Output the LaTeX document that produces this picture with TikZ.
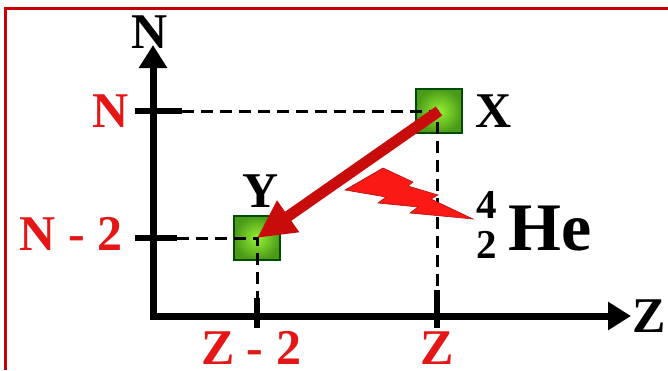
\documentclass[tikz,border=0pt]{standalone}
\usepackage{fontspec}
\setmainfont{Liberation Serif}
\usepackage{xcolor}
\usetikzlibrary{arrows.meta,positioning,shadings}
\definecolor{framered}{RGB}{200,0,0}
\definecolor{labelred}{RGB}{228,22,22}
\definecolor{arrowred}{RGB}{200,12,12}
\definecolor{boltred}{RGB}{250,25,20}
\definecolor{boxlight}{RGB}{150,240,50}
\definecolor{boxdark}{RGB}{75,155,25}

\begin{document}
\begin{tikzpicture}[
  x=1pt, y=-1pt,
  lbl/.style={inner sep=0pt,anchor=base,font=\bfseries\fontsize{50}{50}\selectfont},
  redlbl/.style={lbl,text=labelred},
  nucbox/.style={draw=black!70!green,line width=1.2pt,minimum width=46pt,
    minimum height=44pt,inner sep=0pt,inner color=boxlight,outer color=boxdark},
  axis/.style={line width=7pt,line join=miter,{Triangle[length=23pt,width=27pt]}-{Triangle[length=23pt,width=27pt]}},
  tick/.style={line width=5.5pt},
  guide/.style={line width=3pt,dash pattern=on 12pt off 7pt},
  decay/.style={-{Triangle[length=38pt,width=36pt]},line width=11pt,draw=arrowred}
]
\useasboundingbox[fill=white] (0,0) rectangle (668,370);
\draw[framered,line width=3pt] (5,370) -- (5,8) -- (668,8);

\coordinate (ntop) at (153,45);
\coordinate (origin) at (153,316);
\coordinate (zend) at (631,316);
\draw[axis] (ntop) -- (origin) -- (zend);

\node[lbl] (naxis) at (150,48) {N};
\node[lbl] (zaxis) at (649,332) {Z};

\node[nucbox] (xbox) at (439,111) {};
\node[nucbox] (ybox) at (257,238) {};
\node[lbl] (xlbl) at (494,127) {X};
\node[lbl] (ylbl) at (261,207) {Y};

\coordinate (ntickl) at (135,111);
\coordinate (ntickr) at (182,111);
\coordinate (n2tickl) at (135,238);
\coordinate (n2tickr) at (177,238);
\coordinate (ztickt) at (437,290);
\coordinate (ztickb) at (437,328);
\coordinate (z2tickt) at (257,298);
\coordinate (z2tickb) at (257,328);
\draw[tick] (ntickl) -- (ntickr);
\draw[tick] (n2tickl) -- (n2tickr);
\draw[tick] (ztickt) -- (ztickb);
\draw[tick] (z2tickt) -- (z2tickb);

\draw[guide] (ntickr) -- (ztickt |- xbox.center) -- (ztickt);
\draw[guide] (n2tickr) -- (ybox.center) -- (z2tickt);

\node[redlbl] (nlbl) at (111,127) {N};
\node[redlbl] (n2lbl) at (71,250) {N - 2};
\node[redlbl] (zlbl) at (437,364) {Z};
\node[redlbl] (z2lbl) at (251,364) {Z - 2};

\filldraw[fill=boltred,draw=boltred!70!black,line width=0.6pt]
  (345,190) -- (383,168) -- (413,182) -- (408,186) -- (438,195) -- (431,199)
  -- (473,219) -- (410,213) -- (418,207) -- (378,203) -- (386,197) -- cycle;

\node[lbl,font=\bfseries\fontsize{41}{41}\selectfont] (hemass) at (487,218) {4};
\node[lbl,font=\bfseries\fontsize{41}{41}\selectfont] (hecharge) at (487,258) {2};
\node[lbl,font=\bfseries\fontsize{68}{68}\selectfont] (he) at (550,250) {He};

\draw[decay] (xbox.center) -- (ybox.center);
\end{tikzpicture}
\end{document}
